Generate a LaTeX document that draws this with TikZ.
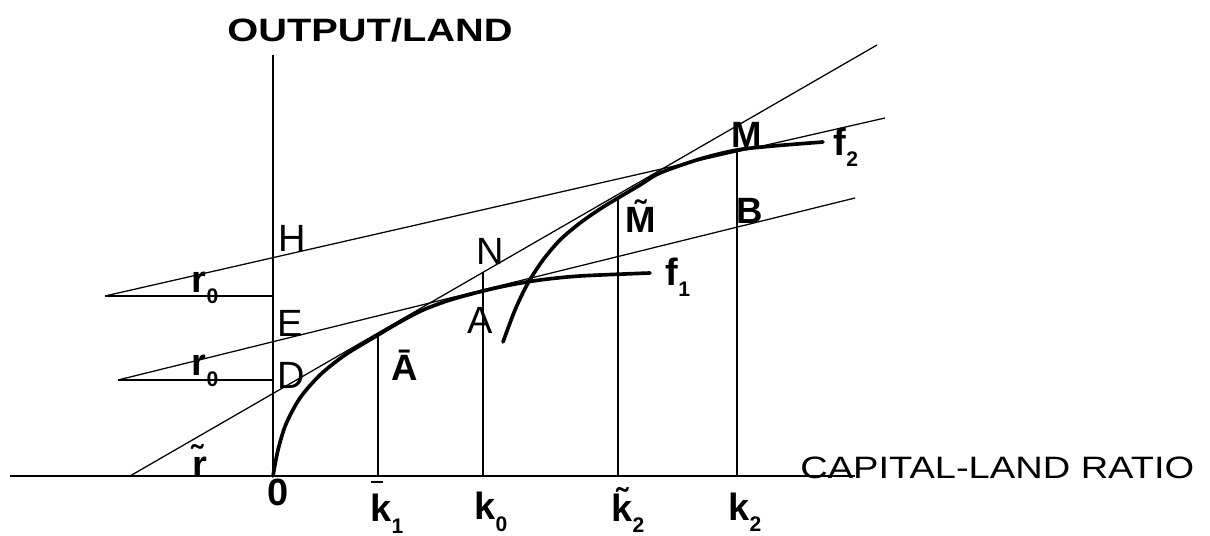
\documentclass[tikz,border=0pt]{standalone}
\usepackage{fontspec}
\usepackage{graphicx}
\setmainfont{Liberation Sans}
\newcommand{\ancho}[1]{\scalebox{1.23}[1]{#1}}
\newcommand{\sub}[1]{\raisebox{-0.3em}{\fontsize{15}{15}\selectfont #1}}
\newcommand{\barra}{\makebox[0pt][l]{\raisebox{1.02em}{\rule{0.32em}{0.07em}}}}
\begin{document}
\begin{tikzpicture}[x=0.025cm, y=-0.025cm,
  delgada/.style={line width=0.9pt, draw=black},
  curva/.style={line width=2.6pt, draw=black, line join=round, line cap=round},
  etiqueta/.style={font=\fontsize{27}{29}\selectfont, inner sep=0pt},
  negrita/.style={font=\fontsize{26}{28}\selectfont\bfseries, inner sep=0pt},
  marca/.style={font=\fontsize{27}{29}\selectfont\bfseries, inner sep=0pt},
  titulo/.style={font=\fontsize{22}{24}\selectfont, inner sep=0pt}]
  \useasboundingbox (0,0) rectangle (1210,536);
  % ejes
  \coordinate (O) at (273,476);
  \coordinate (Xizq) at (10,476);
  \coordinate (Xder) at (855,476);
  \coordinate (Ytop) at (273,55);
  % rectas
  \coordinate (P1) at (105,296);  \coordinate (P2) at (885,118);  \coordinate (Pe) at (273,296);
  \coordinate (Q1) at (118,380);  \coordinate (Q2) at (855,198);  \coordinate (Qe) at (273,380);
  \coordinate (R1) at (130,476);  \coordinate (R2) at (877,45);
  % pies y puntos sobre las curvas
  \coordinate (k1) at (378,476);  \coordinate (Ab) at (378,335);
  \coordinate (k0) at (483,476);  \coordinate (N) at (483,272);
  \coordinate (kt2) at (618,476); \coordinate (Mt) at (618,198);
  \coordinate (k2) at (737,476);  \coordinate (M) at (737,150);

  \draw[delgada] (Xizq) -- (Xder);
  \draw[delgada] (O) -- (Ytop);
  \draw[delgada] (P1) -- (P2);
  \draw[delgada] (P1) -- (Pe); % r0 arriba
  \draw[delgada] (Q1) -- (Q2);
  \draw[delgada] (Q1) -- (Qe); % r0 abajo
  \draw[delgada] (R1) -- (R2);
  \draw[delgada] (k1) -- (Ab);
  \draw[delgada] (k0) -- (N);
  \draw[delgada] (kt2) -- (Mt);
  \draw[delgada] (k2) -- (M);

  % f1
  \draw[curva] plot[smooth] coordinates {(273,476) (278,450) (286,424)
    (300,398) (320,375) (345,355) (378,335) (400,322) (423,310) (450,300)
    (483,291) (510,285) (540,280) (580,276) (650,273)};
  % f2
  \draw[curva] plot[smooth] coordinates {(503,342) (515,310) (528,283)
    (543,260) (560,240) (580,223) (600,209) (618,198) (640,185) (660,173)
    (700,159) (737,150) (773,146) (823,142)};

  \node[titulo, font=\fontsize{23}{25}\selectfont\bfseries] (tY) at (370,30) {\ancho{OUTPUT/LAND}};
  \node[titulo, anchor=west] (tX) at (800,468) {\ancho{CAPITAL-LAND RATIO}};

  \node[etiqueta] (lH) at (292,238) {H};
  \node[etiqueta] (lE) at (290,323) {E};
  \node[etiqueta] (lD) at (291,375) {D};
  \node[etiqueta] (lN) at (490,251) {N};
  \node[etiqueta] (lA) at (480,320) {A};
  \node[negrita] (lAb) at (405,365) {\={A}};
  \node[negrita] (lMt) at (641,216) {\~{M}};
  \node[negrita] (lM) at (747,135) {M};
  \node[negrita] (lB) at (750,211) {B};
  \node[marca] (lf1) at (678,277) {f\sub{1}};
  \node[marca] (lf2) at (846,147) {f\sub{2}};
  \node[marca] (lr0a) at (205,288) {r\sub{0}};
  \node[marca] (lr0b) at (205,371) {r\sub{0}};
  \node[marca] (lrt) at (200,461) {\~{r}};
  \node[marca] (l0) at (278,492) {0};
  \node[marca] (lk1) at (387,507) {\barra k\sub{1}};
  \node[marca] (lk0) at (491,512) {k\sub{0}};
  \node[marca] (lkt2) at (628,510) {\~{k}\sub{2}};
  \node[marca] (lk2) at (745,512) {k\sub{2}};
\end{tikzpicture}
\end{document}
